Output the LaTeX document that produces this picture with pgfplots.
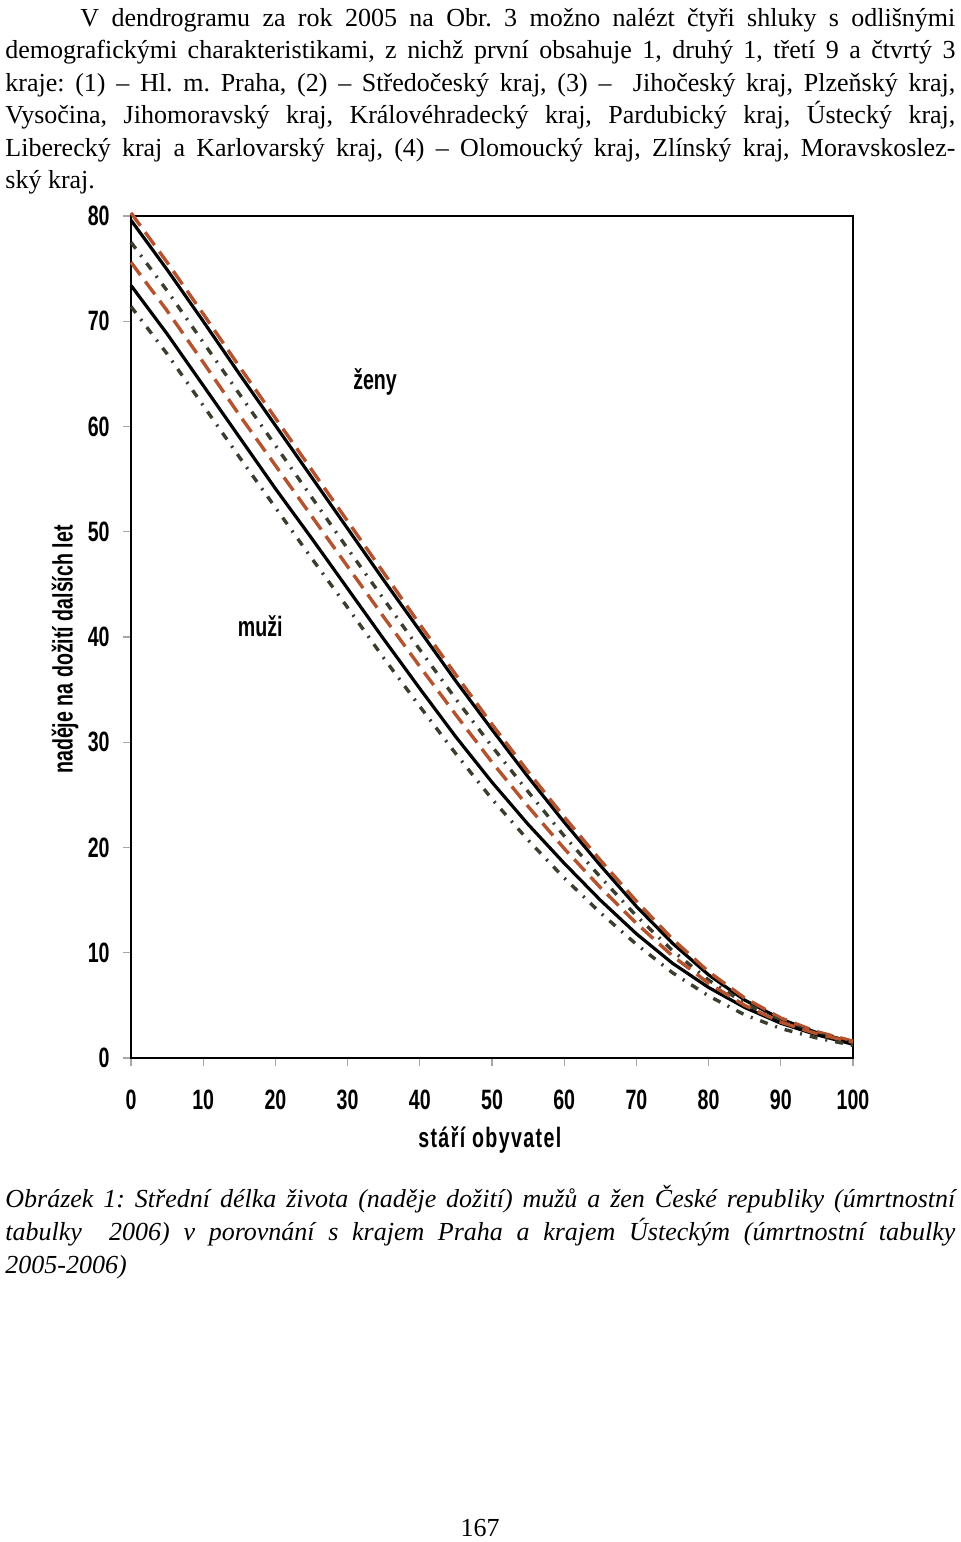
\documentclass[border=0pt]{standalone}
\usepackage{pgfplots}
\pgfplotsset{compat=1.18}
\usepackage{fontspec}
\setmainfont{Liberation Serif}
\newfontfamily\lab[FakeStretch=0.7]{Liberation Sans}
\newfontfamily\labsp[FakeStretch=0.7,LetterSpace=5]{Liberation Sans}
\newcommand\labfont{\lab\bfseries\fontsize{14}{16}\selectfont}
\frenchspacing

\definecolor{praha}{HTML}{B4532D}
\definecolor{usti}{HTML}{3B3D2E}

\begin{document}
\begin{tikzpicture}[x=0.5pt,y=0.5pt]
% page, 960 x 1542 px
\path[use as bounding box] (0,0) rectangle (960,1542);
\coordinate (axorig) at (131,484);

% paragraph above the chart
\node[anchor=north west,inner sep=0pt,text width=475pt,align=justify,
      font=\fontsize{13}{16.25}\selectfont] at (5,1534) {%
\hspace*{37.5pt}V dendrogramu za rok 2005 na Obr. 3 možno nalézt čtyři shluky s odlišnými\linebreak
demografickými charakteristikami, z nichž první obsahuje 1, druhý 1, třetí 9 a čtvrtý 3\linebreak
kraje: (1) -- Hl. m. Praha, (2) -- Středočeský kraj, (3) --~ Jihočeský kraj, Plzeňský kraj,\linebreak
Vysočina, Jihomoravský kraj, Královéhradecký kraj, Pardubický kraj, Ústecký kraj,\linebreak
Liberecký kraj a Karlovarský kraj, (4) -- Olomoucký kraj, Zlínský kraj, Moravskoslez-\linebreak
ský kraj.};

\begin{axis}[
    at={(axorig)}, anchor=south west,
    scale only axis, width=361pt, height=421pt,
    xmin=0, xmax=100, ymin=0, ymax=80,
    xtick={0,10,...,100}, ytick={0,10,...,80},
    axis line style={line width=1pt},
    tick align=outside, major tick length=4pt,
    xtick pos=bottom, ytick pos=left,
    tick style={gray!70, line width=0.6pt},
    /pgf/number format/assume math mode=true,
    tick label style={font=\labfont},
    xticklabel style={inner sep=0pt, yshift=-12pt},
    yticklabel style={inner sep=0pt, xshift=-6.5pt},
    xlabel={\labsp\bfseries\fontsize{14}{16}\selectfont stáří obyvatel},
    xlabel style={at={(axis description cs:0.497,0)}, anchor=center, yshift=-41pt},
    ylabel={\labfont naděje na dožití dalších let},
    ylabel style={at={(axis description cs:0,0.485)}, anchor=center, yshift=33pt},
    clip=false,
]

% zeny - CR
\addplot[black, line width=1.6pt] coordinates {
 (0,79.6) (5,74.9) (10,70.0) (15,65.0) (20,60.1) (25,55.2) (30,50.3) (35,45.4)
 (40,40.6) (45,35.8) (50,31.2) (55,26.7) (60,22.4) (65,18.3) (70,14.4) (75,10.9)
 (80,7.9) (85,5.5) (90,3.7) (95,2.4) (100,1.5)};
% zeny - Praha
\addplot[praha, line width=1.7pt, dash pattern=on 8pt off 4pt] coordinates {
 (0,80.3) (5,75.6) (10,70.7) (15,65.7) (20,60.8) (25,55.9) (30,51.0) (35,46.1)
 (40,41.2) (45,36.4) (50,31.7) (55,27.2) (60,22.9) (65,18.8) (70,14.9) (75,11.3)
 (80,8.2) (85,5.7) (90,3.8) (95,2.5) (100,1.6)};
% zeny - Usti
\addplot[usti, line width=1.7pt, dash pattern=on 4pt off 4pt on 1pt off 4pt] coordinates {
 (0,77.5) (5,72.9) (10,68.0) (15,63.1) (20,58.2) (25,53.3) (30,48.4) (35,43.6)
 (40,38.8) (45,34.1) (50,29.6) (55,25.3) (60,21.1) (65,17.2) (70,13.5) (75,10.2)
 (80,7.4) (85,5.2) (90,3.5) (95,2.3) (100,1.4)};

% muzi - CR
\addplot[black, line width=1.6pt] coordinates {
 (0,73.4) (5,68.8) (10,63.9) (15,59.0) (20,54.1) (25,49.4) (30,44.6) (35,39.8)
 (40,35.1) (45,30.5) (50,26.2) (55,22.2) (60,18.5) (65,15.0) (70,11.8) (75,9.0)
 (80,6.7) (85,4.8) (90,3.3) (95,2.2) (100,1.3)};
% muzi - Praha
\addplot[praha, line width=1.7pt, dash pattern=on 8pt off 4pt] coordinates {
 (0,75.6) (5,71.0) (10,66.1) (15,61.1) (20,56.3) (25,51.5) (30,46.7) (35,41.9)
 (40,37.2) (45,32.6) (50,28.1) (55,23.9) (60,19.9) (65,16.2) (70,12.8) (75,9.7)
 (80,7.1) (85,5.0) (90,3.4) (95,2.3) (100,1.5)};
% muzi - Usti
\addplot[usti, line width=1.7pt, dash pattern=on 4pt off 4pt on 1pt off 4pt] coordinates {
 (0,71.4) (5,66.9) (10,62.0) (15,57.1) (20,52.3) (25,47.5) (30,42.8) (35,38.0)
 (40,33.4) (45,28.9) (50,24.6) (55,20.7) (60,17.1) (65,13.8) (70,10.8) (75,8.1)
 (80,5.9) (85,4.1) (90,2.8) (95,1.9) (100,1.2)};

\node[font=\labfont] at (axis cs:33.8,64.2) {ženy};
\node[font=\labfont] at (axis cs:17.9,41.0) {muži};
\end{axis}

% caption
\node[anchor=north west,inner sep=0pt,text width=475pt,align=justify,
      font=\itshape\fontsize{13}{16.5}\selectfont] at (5,357) {%
Obrázek 1: Střední délka života (naděje dožití) mužů a žen České republiky (úmrtnostní\linebreak
tabulky~ 2006) v porovnání s krajem Praha a krajem Ústeckým (úmrtnostní tabulky\linebreak
2005-2006)};

% page number
\node[font=\fontsize{13}{16}\selectfont] at (480,14) {167};
\end{tikzpicture}
\end{document}
